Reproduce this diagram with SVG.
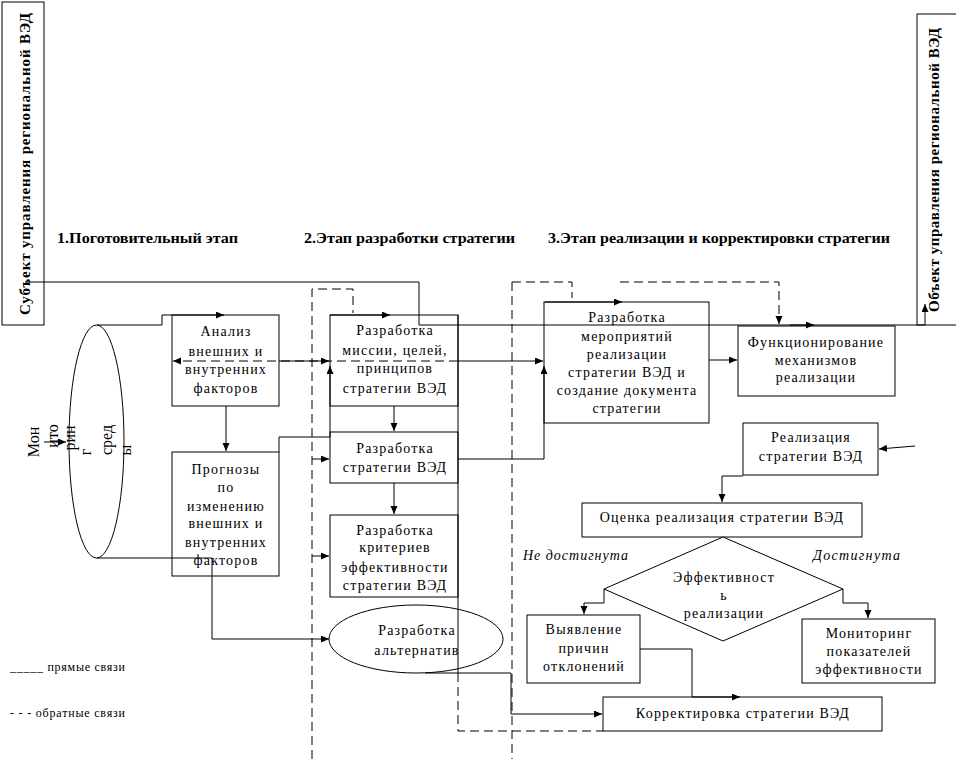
<svg xmlns="http://www.w3.org/2000/svg" width="956" height="759" viewBox="0 0 956 759">
<style>
.b{fill:#fff;stroke:#000;stroke-width:1}
.l{fill:none;stroke:#000;stroke-width:1}
.d{fill:none;stroke:#000;stroke-width:1;stroke-dasharray:9,5}
text{font-family:"Liberation Serif","Times New Roman",serif;font-size:14px;letter-spacing:1.2px;fill:#000}
.t{text-anchor:middle}
.h{font-weight:bold;letter-spacing:0}
.v{font-weight:bold;font-size:15px;letter-spacing:0;text-anchor:middle}
.m{font-size:16px;letter-spacing:0;text-anchor:middle}
.i{font-style:italic;letter-spacing:0}
.g{font-size:12px;letter-spacing:0}
</style>
<defs>
<marker id="a" markerUnits="userSpaceOnUse" markerWidth="9" markerHeight="8" refX="8" refY="3.5" orient="auto">
<path d="M0,0 L8,3.5 L0,7 z" fill="#000"/>
</marker>
</defs>
<rect width="956" height="759" fill="#fff"/>

<g id="subject">
<rect class="b" x="2" y="2" width="42" height="323"/>
<text class="v" transform="translate(30,164) rotate(-90)" textLength="302" lengthAdjust="spacing">Субъект управления региональной ВЭД</text>
</g>
<g id="object">
<rect class="b" x="917" y="14" width="45" height="311"/>
<text class="v" transform="translate(939,170) rotate(-90)" textLength="284" lengthAdjust="spacing">Объект управления региональной ВЭД</text>
</g>

<g id="headers">
<text class="h" x="57" y="243" textLength="181" lengthAdjust="spacingAndGlyphs">1.Поготовительный этап</text>
<text class="h" x="304" y="243" textLength="211" lengthAdjust="spacingAndGlyphs">2.Этап разработки стратегии</text>
<text class="h" x="548" y="243" textLength="342" lengthAdjust="spacingAndGlyphs">3.Этап реализации и корректировки стратегии</text>
</g>

<g id="monitoring">
<ellipse class="b" cx="96.5" cy="441.5" rx="27.5" ry="116.5"/>
<text class="m" transform="translate(39,442) rotate(-90)">Мон</text>
<text class="m" transform="translate(58,436) rotate(-90)">ито</text>
<text class="m" transform="translate(75,438) rotate(-90)">рин</text>
<text class="m" transform="translate(91,452) rotate(-90)">г</text>
<text class="m" transform="translate(112,440) rotate(-90)">сред</text>
<text class="m" transform="translate(131,450) rotate(-90)">ы</text>
</g>

<g id="analysis">
<rect class="b" x="172" y="315" width="107" height="91"/>
<text class="t" x="226" y="336">Анализ</text>
<text class="t" x="226" y="356">внешних и</text>
<text class="t" x="226" y="374">внутренних</text>
<text class="t" x="226" y="393">факторов</text>
</g>
<g id="forecast">
<rect class="b" x="172" y="452" width="107" height="124"/>
<text class="t" x="226" y="474">Прогнозы</text>
<text class="t" x="226" y="492">по</text>
<text class="t" x="226" y="511">изменению</text>
<text class="t" x="226" y="528">внешних и</text>
<text class="t" x="226" y="547">внутренних</text>
<text class="t" x="226" y="565">факторов</text>
</g>

<g id="mission">
<rect class="b" x="330" y="315" width="128" height="91"/>
<text class="t" x="395" y="335">Разработка</text>
<text class="t" x="395" y="355">миссии, целей,</text>
<text class="t" x="395" y="373">принципов</text>
<text class="t" x="395" y="393">стратегии ВЭД</text>
</g>
<g id="strategy">
<rect class="b" x="330" y="432" width="128" height="51"/>
<text class="t" x="395" y="453">Разработка</text>
<text class="t" x="395" y="472">стратегии ВЭД</text>
</g>
<g id="criteria">
<rect class="b" x="330" y="515" width="128" height="82"/>
<text class="t" x="395" y="535">Разработка</text>
<text class="t" x="395" y="552">критериев</text>
<text class="t" x="395" y="572">эффективности</text>
<text class="t" x="395" y="590">стратегии ВЭД</text>
</g>
<g id="alternatives">
<ellipse class="b" cx="416" cy="639" rx="87" ry="34"/>
<text class="t" x="417" y="635">Разработка</text>
<text class="t" x="417" y="655">альтернатив</text>
</g>

<g id="measures">
<rect class="b" x="544" y="302" width="165" height="121"/>
<text class="t" x="627" y="322">Разработка</text>
<text class="t" x="627" y="341">мероприятий</text>
<text class="t" x="627" y="359">реализации</text>
<text class="t" x="627" y="377">стратегии ВЭД и</text>
<text class="t" x="627" y="395">создание документа</text>
<text class="t" x="627" y="413">стратегии</text>
</g>
<g id="functioning">
<rect class="b" x="738" y="326" width="157" height="70"/>
<text class="t" x="816" y="347">Функционирование</text>
<text class="t" x="816" y="365">механизмов</text>
<text class="t" x="816" y="382">реализации</text>
</g>
<g id="realization">
<rect class="b" x="743" y="423" width="135" height="52"/>
<text class="t" x="811" y="442">Реализация</text>
<text class="t" x="811" y="461">стратегии ВЭД</text>
</g>
<g id="evaluation">
<rect class="b" x="582" y="503" width="280" height="34"/>
<text class="t" x="722" y="522">Оценка реализация стратегии ВЭД</text>
</g>
<g id="decision">
<polygon class="b" points="723,537 843,589 723,641 604,589"/>
<text class="t" x="724" y="582">Эффективност</text>
<text class="t" x="724" y="600">ь</text>
<text class="t" x="724" y="618">реализации</text>
</g>
<g id="causes">
<rect class="b" x="527" y="615" width="113" height="68"/>
<text class="t" x="584" y="634">Выявление</text>
<text class="t" x="584" y="653">причин</text>
<text class="t" x="584" y="671">отклонений</text>
</g>
<g id="indicators">
<rect class="b" x="802" y="619" width="133" height="64"/>
<text class="t" x="869" y="638">Мониторинг</text>
<text class="t" x="869" y="656">показателей</text>
<text class="t" x="869" y="674">эффективности</text>
</g>
<g id="correction">
<rect class="b" x="603" y="697" width="279" height="34"/>
<text class="t" x="743" y="718">Корректировка стратегии ВЭД</text>
</g>

<g id="labels">
<text class="i" x="523" y="560" textLength="105" lengthAdjust="spacing">Не достигнута</text>
<text class="i" x="813" y="560" textLength="87" lengthAdjust="spacing">Достигнута</text>
<text class="g" x="10" y="671" textLength="115" lengthAdjust="spacing">_____  прямые связи</text>
<text class="g" x="10" y="717" textLength="115" lengthAdjust="spacing">- - -  обратные связи</text>
</g>

<g id="connectors">
<path class="l" d="M25,282 H419 V325 H925 V304" marker-end="url(#a)"/>
<path class="l" d="M790,325 H814" marker-end="url(#a)"/>
<path class="d" d="M620,282 H779 V324" marker-end="url(#a)"/>
<path class="d" d="M512,282 H572 V298"/>
<path class="d" d="M512,282 V759"/>
<path class="d" d="M312,759 V289 H353 V313"/>
<path class="l" d="M97,325 H162 V315 H224" marker-end="url(#a)"/>
<path class="l" d="M97,558 H212 V639 H329" marker-end="url(#a)"/>
<path class="l" d="M44,442 H66" marker-end="url(#a)"/>
<path class="l" d="M226,406 V451" marker-end="url(#a)"/>
<path class="d" d="M458,361 H173" marker-end="url(#a)"/>
<path class="l" d="M279,361 H329" marker-end="url(#a)"/>
<path class="l" d="M458,361 H543" marker-end="url(#a)"/>
<path class="l" d="M279,452 V437 H330 V366" marker-end="url(#a)"/>
<path class="l" d="M458,459 H544 V366" marker-end="url(#a)"/>
<path class="l" d="M330,315 H390" marker-end="url(#a)"/>
<path class="l" d="M394,406 V431" marker-end="url(#a)"/>
<path class="l" d="M394,483 V514" marker-end="url(#a)"/>
<path class="l" d="M312,459 H329" marker-end="url(#a)"/>
<path class="l" d="M312,556 H329" marker-end="url(#a)"/>
<path class="l" d="M458,315 V673"/>
<path class="d" d="M458,673 V731 H603"/>
<path class="l" d="M425,673 H511 V714 H602" marker-end="url(#a)"/>
<path class="l" d="M545,302 H622" marker-end="url(#a)"/>
<path class="l" d="M709,360 H737" marker-end="url(#a)"/>
<path class="l" d="M915,446 L879,449" marker-end="url(#a)"/>
<path class="l" d="M743,476 H722 V502" marker-end="url(#a)"/>
<path class="l" d="M604,589 V603 H584 V614" marker-end="url(#a)"/>
<path class="l" d="M843,589 V603 H868 V618" marker-end="url(#a)"/>
<path class="l" d="M640,649 H692 V697 H740" marker-end="url(#a)"/>
</g>
</svg>
